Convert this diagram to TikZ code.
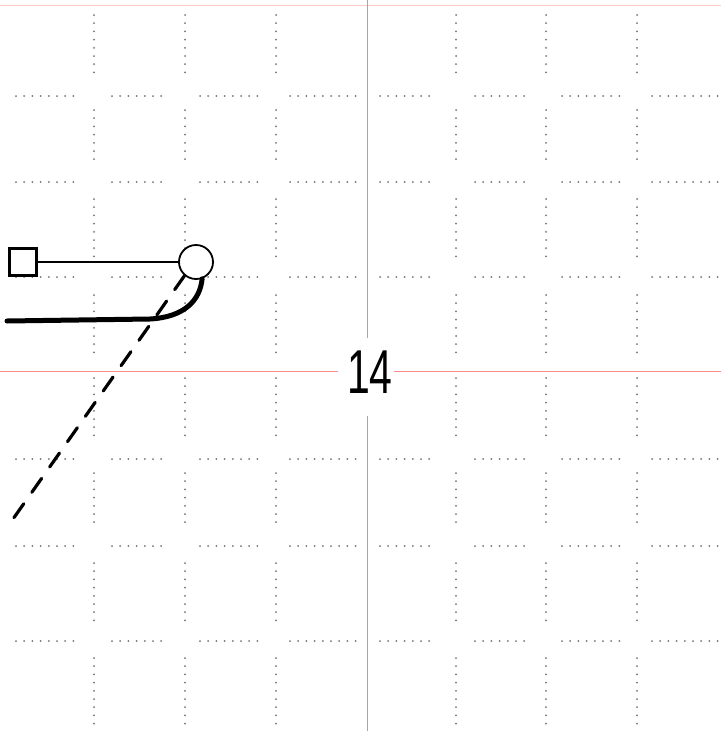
\documentclass[tikz,border=0pt]{standalone}
\usepackage{fontspec}
\setmainfont{Liberation Sans}
\begin{document}
\begin{tikzpicture}[x=1pt,y=-1pt,
  gdots/.style={draw=black!55,line width=2pt,line cap=round,dash pattern=on 0pt off 8.2pt},
  sqbox/.style={draw=black,line width=2.6pt,minimum size=27pt,inner sep=0pt},
  ballnode/.style={circle,draw=black,fill=white,line width=1.8pt,minimum size=34pt,inner sep=0pt},
  thin/.style={line width=1.6pt},
  thick/.style={line width=5pt,line cap=round},
  dashline/.style={line width=3.2pt,line cap=round,dash pattern=on 17pt off 14pt}]
\useasboundingbox[fill=white] (0,0) rectangle (721,731);
% guide lines
\draw[red!45,line width=0.8pt] (0,371) -- (338,371);
\draw[red!45,line width=0.8pt] (394,371) -- (721,371);
\draw[red!20,line width=0.6pt] (0,5) -- (721,5);
\draw[gray!70,line width=1pt] (367,0) -- (367,338);
\draw[gray!70,line width=1pt] (367,416) -- (367,731);
% dotted grid: vertical segments
\foreach \x in {94,185,276,456,546,637}{
  \foreach \a/\b in {15/78,110/167,199/262,295/360,378/442,473/530,563/627,658/725}{
    \draw[gdots] (\x,\a) -- (\x,\b);
  }
}
% dotted grid: horizontal segments
\foreach \y in {96,182,277,459,546,641}{
  \foreach \a/\b in {16/75,112/162,200/258,290/358,380/437,475/525,562/620,652/718}{
    \draw[gdots] (\a,\y) -- (\b,\y);
  }
}
% figure
\node[sqbox] (sq) at (23,262) {};
\node[ballnode] (ball) at (196,262) {};
\coordinate (L) at (7,321);
\coordinate (D) at (13,519);
\draw[thin] (sq.east) -- (ball.west);
\draw[thick] (L) -- (150,319) .. controls (185,317) and (200,300) .. (ball.-70);
\draw[dashline] (ball.-130) -- (D);
\node[inner sep=0pt] (num) at (370,372) {\scalebox{0.66}[1]{\fontsize{62}{62}\selectfont 14}};
\end{tikzpicture}
\end{document}
